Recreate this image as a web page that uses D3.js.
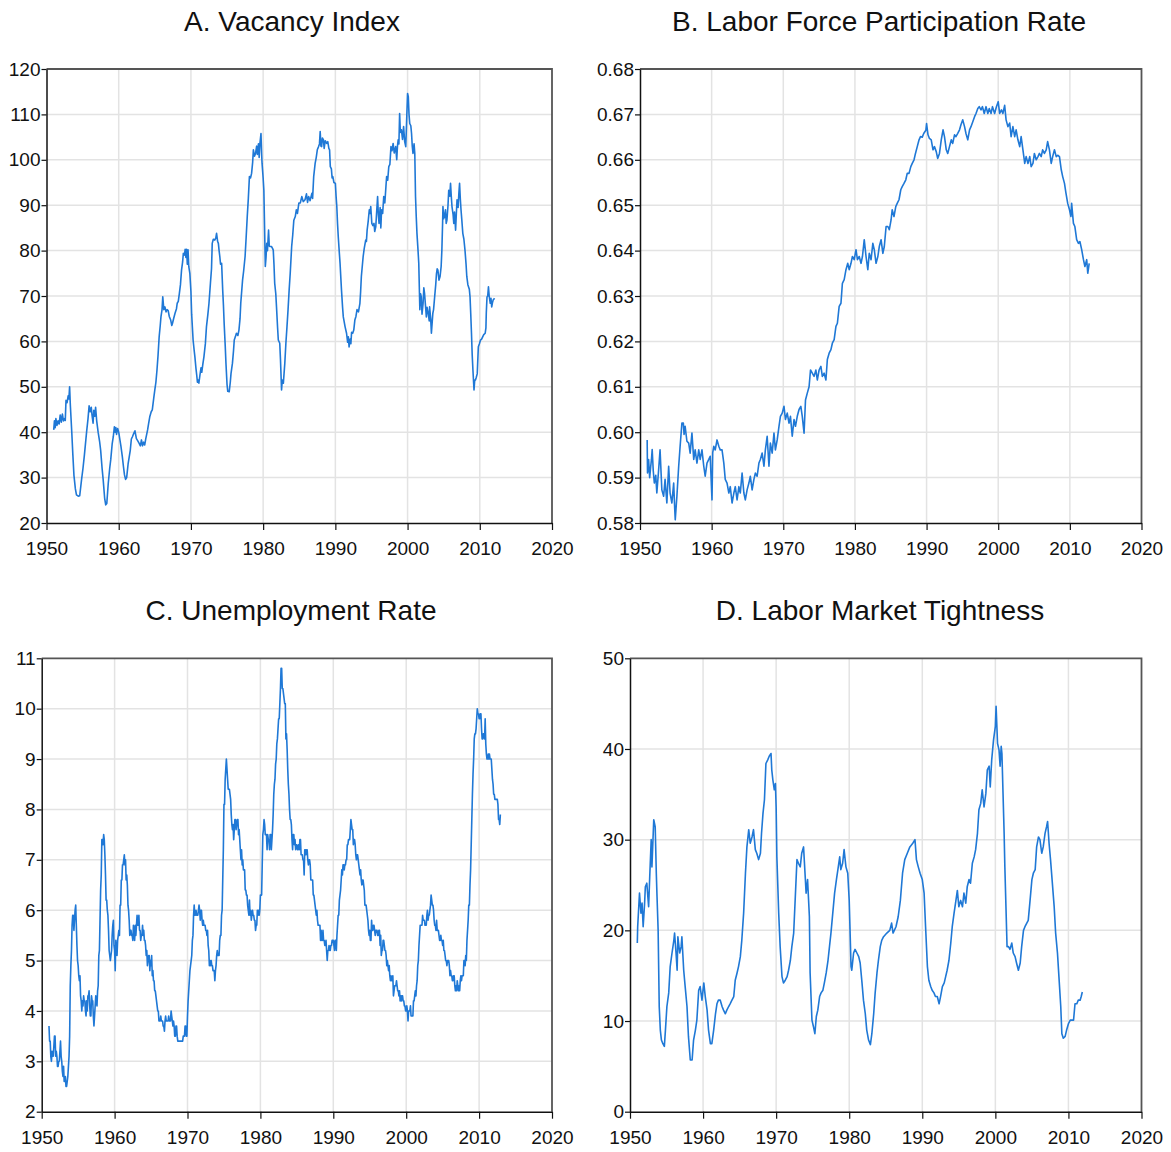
<!DOCTYPE html>
<html lang="en">
<head>
<meta charset="UTF-8">
<title>Labor Market Indicators</title>
<script src="https://d3js.org/d3.v7.min.js"></script>
<style>
  body { margin: 0; background: #fff; }
  svg text { font-family: "Liberation Sans", Arial, sans-serif; fill: #111; }
</style>
</head>
<body>
<div id="chart"></div>
<script>
// ---- data ----
// [decimal year, value]
const vacancy = [
  [1951.0,40.5],[1951.1,42.5],[1951.2,41],[1951.3,43],[1951.45,41.5],[1951.6,42.5],[1951.75,41.8],[1951.9,43.8],
  [1952.05,42.2],[1952.2,44],[1952.35,42.5],[1952.5,43],[1952.6,42.6],[1952.7,47],[1952.85,46.5],[1953.0,48],
  [1953.1,47.3],[1953.2,50],[1953.3,46],[1953.5,40],[1953.65,35],[1953.8,30.5],[1954.0,27.5],[1954.15,26.2],
  [1954.4,25.9],[1954.6,26],[1954.85,29.5],[1955.05,32],[1955.25,35],[1955.55,40],[1955.75,43],[1955.9,45.8],
  [1956.05,44.5],[1956.2,45.5],[1956.3,43.8],[1956.45,42],[1956.55,44.8],[1956.7,43.5],[1956.8,45.5],[1956.95,42.5],
  [1957.15,40],[1957.35,38],[1957.5,36],[1957.7,32],[1957.85,29.5],[1958.05,25.5],[1958.2,24],[1958.35,24.3],
  [1958.55,28.7],[1958.75,32],[1958.9,34],[1959.1,37.5],[1959.25,39],[1959.4,41.2],[1959.5,40],[1959.6,41],
  [1959.7,39.5],[1959.85,40.8],[1960.0,40],[1960.15,38.5],[1960.3,37],[1960.5,34.6],[1960.65,32.5],[1960.8,30.6],
  [1960.95,29.6],[1961.1,30],[1961.3,33],[1961.45,34.5],[1961.6,36],[1961.75,38.5],[1961.9,39],[1962.1,39.8],
  [1962.25,40.3],[1962.45,38.6],[1962.6,38.2],[1962.85,37.5],[1963.0,37],[1963.15,38.3],[1963.3,37],[1963.45,37.8],
  [1963.6,37.2],[1963.75,38.6],[1964.0,40.5],[1964.15,42],[1964.3,43.4],[1964.5,44.5],[1964.65,44.9],[1964.85,47.5],
  [1965.0,49.3],[1965.15,51],[1965.3,53.7],[1965.45,57],[1965.6,61],[1965.75,63.5],[1965.85,65.4],[1966.0,67],
  [1966.1,69.8],[1966.25,67],[1966.4,67.6],[1966.55,66.5],[1966.7,67],[1966.85,66.8],[1967.0,65.5],[1967.2,64.7],
  [1967.35,63.5],[1967.45,64],[1967.6,65],[1967.8,66.2],[1968.0,67.2],[1968.1,68.4],[1968.25,68.8],[1968.4,70.6],
  [1968.55,72.5],[1968.7,75.7],[1968.85,77.5],[1968.95,79.4],[1969.1,79],[1969.2,80.3],[1969.3,78.5],[1969.4,80.3],
  [1969.5,77],[1969.6,80.2],[1969.7,76.5],[1969.85,75],[1970.0,71],[1970.1,66],[1970.3,60.3],[1970.45,58],
  [1970.55,56.6],[1970.7,54],[1970.8,52.6],[1970.9,51],[1971.0,51.5],[1971.1,50.8],[1971.25,52.6],[1971.4,54.2],
  [1971.5,53.2],[1971.65,55],[1971.8,56.6],[1972.0,59.5],[1972.15,63.2],[1972.35,66],[1972.5,68.4],[1972.7,72.8],
  [1972.85,76],[1972.95,81.6],[1973.1,82.5],[1973.3,82.3],[1973.45,82.8],[1973.55,83.8],[1973.7,82],[1973.8,81.6],
  [1973.9,80],[1974.0,78.7],[1974.1,77],[1974.25,77.2],[1974.4,71.3],[1974.5,68],[1974.6,64],[1974.75,59],
  [1974.85,55.2],[1975.0,50.5],[1975.1,49],[1975.3,48.9],[1975.45,51],[1975.55,52.9],[1975.75,55.2],[1975.9,58],
  [1976.0,60.3],[1976.15,61],[1976.3,61.8],[1976.5,61.3],[1976.65,62.5],[1976.8,65],[1976.9,68.4],[1977.15,73.5],
  [1977.3,75.5],[1977.5,78.7],[1977.65,83],[1977.8,87.5],[1977.95,91.5],[1978.1,96.3],[1978.25,96],[1978.4,97],
  [1978.55,99.5],[1978.65,102.2],[1978.8,100.8],[1978.95,101.4],[1979.1,103],[1979.2,101.2],[1979.35,103.5],[1979.45,100.5],
  [1979.55,103.5],[1979.7,105.8],[1979.8,101],[1979.85,99.2],[1980.0,96],[1980.1,93.3],[1980.2,85],[1980.3,76.5],
  [1980.4,78.5],[1980.5,81.6],[1980.6,80],[1980.75,84.5],[1980.85,81],[1980.95,80.9],[1981.15,80.9],[1981.3,80.5],
  [1981.4,80.1],[1981.5,77],[1981.6,72.8],[1981.75,70.5],[1981.85,67.6],[1982.0,63],[1982.1,60.3],[1982.3,59.6],
  [1982.4,56],[1982.55,49.3],[1982.65,51.5],[1982.8,50.8],[1982.9,53],[1983.0,55.2],[1983.15,59.6],[1983.3,63.2],
  [1983.45,67],[1983.6,71.3],[1983.75,75],[1983.95,80.9],[1984.1,83.5],[1984.25,86.7],[1984.45,87.5],[1984.6,89],
  [1984.75,88.2],[1984.95,90.5],[1985.15,90.5],[1985.35,91.9],[1985.55,90.8],[1985.8,91.2],[1986.0,92.5],[1986.15,90.6],
  [1986.3,91.9],[1986.5,91],[1986.75,92.6],[1986.85,91.5],[1987.0,96.3],[1987.2,99.2],[1987.35,100.5],[1987.5,102.2],
  [1987.65,102.8],[1987.8,103.5],[1987.9,106.2],[1988.0,103],[1988.1,102.9],[1988.2,104.8],[1988.35,104.4],[1988.45,102.5],
  [1988.6,104.2],[1988.8,103.6],[1988.95,104],[1989.1,102.5],[1989.2,102.2],[1989.3,98.5],[1989.45,98],[1989.55,96],
  [1989.65,96.3],[1989.8,95],[1990.0,94.8],[1990.1,92],[1990.2,89.7],[1990.3,86],[1990.4,83.1],[1990.55,79.5],
  [1990.65,77.2],[1990.85,71.3],[1991.0,67.5],[1991.1,65.4],[1991.35,63.2],[1991.55,61.8],[1991.7,59.8],[1991.8,61],
  [1991.9,58.8],[1992.05,60.5],[1992.15,59.5],[1992.25,62],[1992.4,61.8],[1992.55,62.5],[1992.7,64.7],[1992.85,65.5],
  [1993.0,67],[1993.2,66.5],[1993.4,68.4],[1993.5,71],[1993.6,74.3],[1993.85,78.7],[1994.0,80.5],[1994.2,82.3],
  [1994.3,82],[1994.4,84.5],[1994.55,86.5],[1994.7,89],[1994.8,88.2],[1994.9,89.7],[1995.05,86],[1995.2,85.5],
  [1995.35,86],[1995.45,84.2],[1995.6,85.3],[1995.7,88],[1995.85,91.9],[1995.95,88],[1996.05,86],[1996.2,89.5],
  [1996.3,85],[1996.4,89],[1996.55,88.2],[1996.7,91.9],[1996.85,90.5],[1997.0,94],[1997.1,96.3],[1997.25,95.5],
  [1997.4,98.5],[1997.55,99],[1997.7,102.9],[1997.85,102],[1998.0,103.6],[1998.15,101.5],[1998.35,102.9],[1998.5,100],
  [1998.6,103],[1998.7,104.4],[1998.8,103.5],[1998.9,110.2],[1999.0,106],[1999.15,106.6],[1999.3,104.5],[1999.45,107.3],
  [1999.6,104],[1999.75,102.9],[1999.9,110],[2000.0,114.6],[2000.1,113.9],[2000.2,110],[2000.3,108],[2000.45,107.5],
  [2000.55,105.8],[2000.65,103],[2000.75,101.4],[2000.9,103.5],[2001.0,101.4],[2001.1,91.9],[2001.2,87.5],[2001.3,83.8],
  [2001.45,80],[2001.55,77.2],[2001.7,67],[2001.8,70.5],[2001.9,69.8],[2002.0,66],[2002.15,68.4],[2002.25,71.8],
  [2002.35,70.6],[2002.5,67.5],[2002.6,65.4],[2002.7,67.5],[2002.85,66.2],[2003.0,64.5],[2003.05,67.6],[2003.2,65],
  [2003.3,61.8],[2003.4,64],[2003.5,66.2],[2003.6,67],[2003.75,69.8],[2003.9,72.5],[2004.0,74.9],[2004.1,76],
  [2004.2,75.7],[2004.35,73.5],[2004.5,74.3],[2004.65,76.5],[2004.75,80.1],[2004.85,86],[2004.9,89.7],[2005.0,87],
  [2005.1,87.5],[2005.25,89],[2005.35,86],[2005.45,86.7],[2005.6,90],[2005.7,93.3],[2005.85,92],[2005.95,94.8],
  [2006.05,92],[2006.15,89.7],[2006.3,88],[2006.4,86],[2006.5,88.5],[2006.65,84.5],[2006.75,88],[2006.85,91.2],
  [2007.0,89.5],[2007.1,92.5],[2007.2,94.8],[2007.3,91.5],[2007.4,89],[2007.5,87],[2007.65,83.8],[2007.8,82.5],
  [2007.95,80.1],[2008.1,77],[2008.2,74.3],[2008.35,72.5],[2008.45,72],[2008.55,71.5],[2008.65,69.8],[2008.75,66],
  [2008.85,61.8],[2008.95,57],[2009.05,53.7],[2009.2,49.3],[2009.3,51.5],[2009.4,51.5],[2009.5,52],[2009.65,52.9],
  [2009.8,58.8],[2009.95,59.5],[2010.1,60.3],[2010.25,60.5],[2010.4,61],[2010.55,61.5],[2010.75,61.8],[2010.85,63],
  [2010.9,66.2],[2011.0,69.8],[2011.1,70],[2011.2,72],[2011.3,70],[2011.45,68.4],[2011.55,69.5],[2011.65,67.6],
  [2011.75,68.5],[2011.85,69.1],[2012.05,69.5]
];

const participation = [
  [1951.0,0.5983],[1951.05,0.591],[1951.2,0.594],[1951.35,0.590],[1951.5,0.5925],[1951.6,0.594],[1951.7,0.5962],[1951.85,0.5915],
  [1952.0,0.5888],[1952.2,0.5905],[1952.35,0.5866],[1952.6,0.5917],[1952.8,0.5961],[1953.05,0.5873],[1953.3,0.5859],[1953.5,0.5896],
  [1953.75,0.5844],[1954.0,0.5925],[1954.2,0.5866],[1954.45,0.5844],[1954.7,0.5888],[1954.85,0.5830],[1954.92,0.5807],[1955.15,0.5859],
  [1955.4,0.5925],[1955.6,0.5969],[1955.85,0.602],[1956.05,0.602],[1956.15,0.5995],[1956.3,0.6013],[1956.55,0.598],[1956.8,0.5976],
  [1957.0,0.5954],[1957.25,0.5998],[1957.5,0.594],[1957.7,0.5961],[1957.95,0.5932],[1958.2,0.5961],[1958.4,0.594],[1958.65,0.5961],
  [1958.9,0.5925],[1959.1,0.5903],[1959.35,0.5932],[1959.6,0.594],[1959.8,0.5947],[1960.05,0.5851],[1960.15,0.5955],[1960.3,0.5969],
  [1960.5,0.5961],[1960.75,0.5983],[1961.0,0.5969],[1961.2,0.5961],[1961.45,0.5961],[1961.7,0.5932],[1961.9,0.5896],[1962.15,0.5888],
  [1962.4,0.5866],[1962.6,0.588],[1962.85,0.5844],[1963.1,0.5866],[1963.3,0.588],[1963.55,0.5851],[1963.8,0.588],[1964.0,0.5866],
  [1964.25,0.591],[1964.5,0.5866],[1964.7,0.5851],[1964.95,0.5873],[1965.2,0.5888],[1965.4,0.5903],[1965.65,0.5873],[1965.9,0.5896],
  [1966.1,0.591],[1966.35,0.5903],[1966.6,0.5932],[1966.8,0.594],[1967.05,0.5954],[1967.3,0.5925],[1967.5,0.5961],[1967.75,0.5991],
  [1968.0,0.5925],[1968.2,0.5976],[1968.45,0.5954],[1968.7,0.5998],[1968.9,0.5961],[1969.15,0.5983],[1969.4,0.6013],[1969.6,0.6035],
  [1969.85,0.6042],[1970.1,0.6057],[1970.3,0.6028],[1970.55,0.6042],[1970.8,0.602],[1971.0,0.6035],[1971.25,0.5991],[1971.5,0.6028],
  [1971.7,0.6013],[1971.95,0.6035],[1972.2,0.605],[1972.45,0.6057],[1972.65,0.6035],[1972.9,0.5998],[1973.1,0.6071],[1973.35,0.6086],
  [1973.6,0.61],[1973.8,0.6137],[1974.05,0.613],[1974.3,0.6123],[1974.55,0.6137],[1974.75,0.6115],[1975.0,0.6137],[1975.25,0.6145],
  [1975.45,0.6123],[1975.7,0.613],[1975.95,0.6115],[1976.15,0.616],[1976.4,0.6174],[1976.65,0.6182],[1976.85,0.6196],[1977.1,0.6204],
  [1977.35,0.6233],[1977.55,0.624],[1977.8,0.6277],[1978.05,0.6284],[1978.25,0.6328],[1978.5,0.6336],[1978.75,0.6358],[1979.0,0.6372],
  [1979.2,0.6358],[1979.45,0.6372],[1979.65,0.6387],[1979.9,0.638],[1980.15,0.6402],[1980.35,0.638],[1980.6,0.6387],[1980.85,0.6372],
  [1981.05,0.6387],[1981.3,0.6424],[1981.55,0.6387],[1981.8,0.6358],[1982.0,0.6394],[1982.25,0.638],[1982.5,0.6416],[1982.7,0.6402],
  [1982.95,0.6372],[1983.2,0.6387],[1983.4,0.6409],[1983.65,0.6424],[1983.9,0.6394],[1984.1,0.6409],[1984.35,0.6453],[1984.6,0.6453],
  [1984.8,0.6446],[1985.05,0.6468],[1985.2,0.649],[1985.45,0.6475],[1985.7,0.6497],[1985.9,0.6504],[1986.15,0.6512],[1986.4,0.6534],
  [1986.6,0.6541],[1986.85,0.6548],[1987.1,0.6556],[1987.3,0.657],[1987.55,0.657],[1987.8,0.6585],[1988.0,0.6592],[1988.25,0.66],
  [1988.45,0.6614],[1988.7,0.6629],[1988.95,0.6644],[1989.15,0.6651],[1989.4,0.665],[1989.6,0.6658],[1989.9,0.6665],[1990.0,0.6680],
  [1990.2,0.6655],[1990.4,0.6647],[1990.65,0.6644],[1990.9,0.6622],[1991.1,0.6629],[1991.35,0.6618],[1991.55,0.6603],[1991.8,0.6614],
  [1992.05,0.6644],[1992.3,0.6666],[1992.5,0.6651],[1992.75,0.6622],[1992.95,0.6614],[1993.2,0.6629],[1993.45,0.6644],[1993.65,0.6636],
  [1993.9,0.6655],[1994.1,0.6651],[1994.35,0.6658],[1994.6,0.6666],[1994.8,0.6677],[1995.05,0.6688],[1995.3,0.6673],[1995.5,0.6658],
  [1995.75,0.6644],[1996.0,0.6666],[1996.2,0.6673],[1996.45,0.6684],[1996.7,0.6695],[1996.9,0.6702],[1997.15,0.6713],[1997.35,0.6717],
  [1997.6,0.671],[1997.8,0.6717],[1998.05,0.6702],[1998.3,0.6717],[1998.55,0.6702],[1998.75,0.6713],[1999.0,0.6702],[1999.2,0.6717],
  [1999.5,0.6702],[1999.75,0.6717],[2000.0,0.6728],[2000.2,0.6702],[2000.45,0.671],[2000.65,0.6702],[2000.9,0.672],[2001.1,0.6688],
  [2001.35,0.6673],[2001.6,0.6681],[2001.8,0.6651],[2002.05,0.6673],[2002.3,0.6651],[2002.5,0.6666],[2002.75,0.6644],[2003.0,0.6629],
  [2003.2,0.6651],[2003.45,0.6622],[2003.7,0.6592],[2003.9,0.6607],[2004.15,0.6592],[2004.4,0.6607],[2004.6,0.6585],[2004.85,0.6592],
  [2005.05,0.6614],[2005.3,0.66],[2005.55,0.6607],[2005.75,0.6614],[2006.0,0.6607],[2006.2,0.6622],[2006.45,0.6614],[2006.7,0.6622],
  [2006.9,0.664],[2007.15,0.6622],[2007.4,0.6592],[2007.6,0.6607],[2007.85,0.6622],[2008.1,0.6607],[2008.3,0.661],[2008.55,0.6607],
  [2008.8,0.6578],[2009.0,0.6563],[2009.25,0.6548],[2009.45,0.6527],[2009.7,0.6504],[2009.95,0.649],[2010.15,0.6475],[2010.25,0.6504],
  [2010.5,0.646],[2010.7,0.6453],[2010.95,0.6424],[2011.2,0.6416],[2011.4,0.642],[2011.65,0.6402],[2011.9,0.638],[2012.1,0.6365],
  [2012.35,0.638],[2012.5,0.635],[2012.7,0.6372]
];

// unemployment rate, monthly, one row per year from 1951 (Jan..Dec)
const unempStartYear = 1951;
const unemployment = [
  [3.7,3.4,3.4,3.1,3.0,3.2,3.1,3.1,3.3,3.5,3.5,3.1],
  [3.2,3.1,2.9,2.9,3.0,3.0,3.2,3.4,3.1,3.0,2.8,2.7],
  [2.9,2.6,2.6,2.7,2.5,2.5,2.6,2.7,2.9,3.1,3.5,4.5],
  [4.9,5.2,5.7,5.9,5.9,5.6,5.8,6.0,6.1,5.7,5.3,5.0],
  [4.9,4.7,4.6,4.7,4.3,4.2,4.0,4.2,4.1,4.3,4.2,4.2],
  [4.0,3.9,4.2,4.0,4.3,4.3,4.4,4.1,3.9,3.9,4.3,4.2],
  [4.2,3.9,3.7,3.9,4.1,4.3,4.2,4.1,4.4,4.5,5.1,5.2],
  [5.8,6.4,6.7,7.4,7.4,7.3,7.5,7.4,7.1,6.7,6.2,6.2],
  [6.0,5.9,5.6,5.2,5.1,5.0,5.1,5.2,5.5,5.7,5.8,5.3],
  [5.2,4.8,5.4,5.2,5.1,5.4,5.5,5.6,5.5,6.1,6.1,6.6],
  [6.6,6.9,6.9,7.0,7.1,6.9,7.0,6.6,6.7,6.5,6.1,6.0],
  [5.8,5.5,5.6,5.6,5.5,5.5,5.4,5.7,5.6,5.4,5.7,5.5],
  [5.7,5.9,5.7,5.7,5.9,5.6,5.6,5.4,5.5,5.5,5.7,5.5],
  [5.6,5.4,5.4,5.3,5.1,5.2,4.9,5.0,5.1,5.1,4.8,5.0],
  [4.9,5.1,4.7,4.8,4.6,4.6,4.4,4.4,4.3,4.2,4.1,4.0],
  [4.0,3.8,3.8,3.8,3.9,3.8,3.8,3.8,3.7,3.7,3.6,3.8],
  [3.9,3.8,3.8,3.8,3.8,3.9,3.8,3.8,3.8,4.0,3.9,3.8],
  [3.7,3.8,3.7,3.5,3.5,3.7,3.7,3.5,3.4,3.4,3.4,3.4],
  [3.4,3.4,3.4,3.4,3.4,3.5,3.5,3.5,3.7,3.7,3.5,3.5],
  [3.9,4.2,4.4,4.6,4.8,4.9,5.0,5.1,5.4,5.5,5.9,6.1],
  [5.9,5.9,6.0,5.9,5.9,5.9,6.0,6.1,6.0,5.8,6.0,6.0],
  [5.8,5.7,5.8,5.7,5.7,5.7,5.6,5.6,5.5,5.6,5.3,5.2],
  [4.9,5.0,4.9,5.0,4.9,4.9,4.8,4.8,4.8,4.6,4.8,4.9],
  [5.1,5.2,5.1,5.1,5.1,5.4,5.5,5.5,5.9,6.0,6.6,7.2],
  [8.1,8.1,8.6,8.8,9.0,8.8,8.6,8.4,8.4,8.4,8.3,8.2],
  [7.9,7.7,7.6,7.7,7.4,7.6,7.8,7.8,7.6,7.7,7.8,7.8],
  [7.5,7.6,7.4,7.2,7.0,7.2,6.9,7.0,6.8,6.8,6.8,6.4],
  [6.4,6.3,6.3,6.1,6.0,5.9,6.2,5.9,6.0,5.8,5.9,6.0],
  [5.9,5.9,5.8,5.8,5.6,5.7,5.7,6.0,5.9,6.0,5.9,6.0],
  [6.3,6.3,6.3,6.9,7.5,7.6,7.8,7.7,7.5,7.5,7.5,7.2],
  [7.5,7.4,7.4,7.2,7.5,7.5,7.2,7.4,7.6,7.9,8.3,8.5],
  [8.6,8.9,9.0,9.3,9.4,9.6,9.8,9.8,10.1,10.4,10.8,10.8],
  [10.4,10.4,10.3,10.2,10.1,10.1,9.4,9.5,9.2,8.8,8.5,8.3],
  [8.0,7.8,7.8,7.7,7.4,7.2,7.5,7.5,7.3,7.4,7.2,7.3],
  [7.3,7.2,7.2,7.3,7.2,7.4,7.4,7.1,7.1,7.1,7.0,7.0],
  [6.7,7.2,7.2,7.1,7.2,7.2,7.0,6.9,7.0,7.0,6.9,6.6],
  [6.6,6.6,6.6,6.3,6.3,6.2,6.1,6.0,5.9,6.0,5.8,5.7],
  [5.7,5.7,5.7,5.4,5.6,5.4,5.4,5.6,5.4,5.4,5.3,5.3],
  [5.4,5.2,5.0,5.2,5.2,5.3,5.2,5.2,5.3,5.3,5.4,5.4],
  [5.4,5.3,5.2,5.4,5.4,5.2,5.5,5.7,5.9,5.9,6.2,6.3],
  [6.4,6.6,6.8,6.7,6.9,6.9,6.8,6.9,6.9,7.0,7.0,7.3],
  [7.3,7.4,7.4,7.4,7.6,7.8,7.7,7.6,7.6,7.3,7.4,7.4],
  [7.3,7.1,7.0,7.1,7.1,7.0,6.9,6.8,6.7,6.8,6.6,6.5],
  [6.6,6.6,6.5,6.4,6.1,6.1,6.1,6.0,5.9,5.8,5.6,5.5],
  [5.6,5.4,5.4,5.8,5.6,5.6,5.7,5.7,5.6,5.5,5.6,5.6],
  [5.6,5.5,5.5,5.6,5.6,5.3,5.5,5.1,5.2,5.2,5.4,5.4],
  [5.3,5.2,5.2,5.1,4.9,5.0,4.9,4.8,4.9,4.7,4.6,4.7],
  [4.6,4.6,4.7,4.3,4.4,4.5,4.5,4.5,4.6,4.5,4.4,4.4],
  [4.3,4.4,4.2,4.3,4.2,4.3,4.3,4.2,4.2,4.1,4.1,4.0],
  [4.0,4.1,4.0,3.8,4.0,4.0,4.0,4.1,3.9,3.9,3.9,3.9],
  [4.2,4.2,4.3,4.4,4.3,4.5,4.6,4.9,5.0,5.3,5.5,5.7],
  [5.7,5.7,5.7,5.9,5.8,5.8,5.8,5.7,5.7,5.7,5.9,6.0],
  [5.8,5.9,5.9,6.0,6.1,6.3,6.2,6.1,6.1,6.0,5.8,5.7],
  [5.7,5.6,5.8,5.6,5.6,5.6,5.5,5.4,5.4,5.5,5.4,5.4],
  [5.3,5.4,5.2,5.2,5.1,5.0,5.0,4.9,5.0,5.0,5.0,4.9],
  [4.7,4.8,4.7,4.7,4.6,4.6,4.7,4.7,4.5,4.4,4.5,4.4],
  [4.6,4.5,4.4,4.5,4.4,4.6,4.7,4.6,4.7,4.7,4.7,5.0],
  [5.0,4.9,5.1,5.0,5.4,5.6,5.8,6.1,6.1,6.5,6.8,7.3],
  [7.8,8.3,8.7,9.0,9.4,9.5,9.5,9.6,9.8,10.0,9.9,9.9],
  [9.8,9.8,9.9,9.9,9.6,9.4,9.4,9.5,9.5,9.4,9.8,9.3],
  [9.1,9.0,9.0,9.1,9.0,9.1,9.0,9.0,9.0,8.8,8.6,8.5],
  [8.3,8.3,8.2,8.2,8.2,8.2,8.2,8.1,7.8,7.8,7.7,7.9]
];

const tightness = [
  [1951.0,18.6],[1951.05,20.4],[1951.3,24.1],[1951.5,21.9],[1951.65,23],[1951.8,20.4],[1952.0,23],[1952.1,24.8],
  [1952.3,25.2],[1952.55,22.6],[1952.7,25.9],[1952.9,30],[1953.0,27],[1953.25,32.2],[1953.45,31.4],[1953.6,26.3],
  [1953.7,23.7],[1953.85,20],[1954.0,11.6],[1954.15,9],[1954.3,7.9],[1954.5,7.5],[1954.7,7.2],[1954.85,9],
  [1955.05,11.6],[1955.3,13.1],[1955.5,16],[1955.75,17.5],[1956.0,18.9],[1956.1,19.7],[1956.3,17.5],[1956.45,15.6],
  [1956.55,19.3],[1956.8,17.5],[1957.0,18.2],[1957.1,19.3],[1957.35,15.6],[1957.55,13.8],[1957.8,11.6],[1958.0,8.3],
  [1958.25,5.7],[1958.5,5.7],[1958.7,7.9],[1958.95,9],[1959.15,10.1],[1959.4,13.4],[1959.6,13.8],[1959.85,12.3],
  [1960.1,14.2],[1960.3,12.7],[1960.55,11.2],[1960.75,9],[1961.0,7.5],[1961.2,7.5],[1961.45,9],[1961.7,10.8],
  [1961.9,11.9],[1962.1,12.3],[1962.35,12.3],[1962.6,11.6],[1962.8,11.2],[1963.05,10.8],[1963.25,11.2],[1963.5,11.6],
  [1963.7,11.9],[1963.95,12.3],[1964.2,12.7],[1964.4,14.5],[1964.65,15.3],[1964.85,16],[1965.1,17.1],[1965.3,18.9],
  [1965.55,21.9],[1965.8,26.3],[1966.0,29.2],[1966.25,31.1],[1966.45,29.6],[1966.7,30.3],[1966.9,31.1],[1967.15,28.9],
  [1967.35,28.5],[1967.6,27.8],[1967.85,28.5],[1968.0,30.7],[1968.2,32.9],[1968.4,34.4],[1968.6,38.4],[1968.85,38.8],
  [1969.05,39.2],[1969.3,39.5],[1969.4,37.7],[1969.55,36.6],[1969.75,35.5],[1969.9,36.2],[1970.0,33.6],[1970.1,28.1],
  [1970.35,21.9],[1970.55,18.2],[1970.8,14.9],[1971.0,14.2],[1971.25,14.5],[1971.5,14.9],[1971.7,15.6],[1971.95,16.7],
  [1972.15,18.2],[1972.4,19.7],[1972.6,23.3],[1972.85,27.8],[1973.05,27.4],[1973.3,27],[1973.5,28.5],[1973.75,29.2],
  [1974.0,25.6],[1974.1,24.1],[1974.3,25.6],[1974.55,21.5],[1974.65,15.3],[1974.9,10.1],[1975.1,9.4],[1975.3,8.6],
  [1975.5,10.5],[1975.7,11.2],[1975.95,12.7],[1976.15,13.1],[1976.4,13.4],[1976.6,14.2],[1976.85,15.3],[1977.1,16.7],
  [1977.3,18.2],[1977.5,19.7],[1977.75,21.9],[1978.0,24.1],[1978.25,25.6],[1978.45,26.7],[1978.7,28.1],[1978.85,26.7],
  [1979.1,27.4],[1979.3,28.9],[1979.55,27],[1979.8,26.3],[1980.0,23.3],[1980.25,16],[1980.35,15.6],[1980.6,17.5],
  [1980.8,17.9],[1981.05,17.5],[1981.3,17.1],[1981.5,16.4],[1981.75,14.2],[1981.95,12.3],[1982.2,10.8],[1982.4,9],
  [1982.65,7.9],[1982.9,7.4],[1983.1,8.6],[1983.35,10.8],[1983.55,13.1],[1983.8,15.3],[1984.0,16.7],[1984.25,18.2],
  [1984.45,18.9],[1984.7,19.3],[1985.15,19.7],[1985.55,20],[1985.8,20.8],[1986.0,19.7],[1986.4,20.4],[1986.7,21.5],
  [1987.0,23.3],[1987.3,26.3],[1987.6,27.8],[1987.95,28.5],[1988.3,29.2],[1988.7,29.6],[1989.0,30],[1989.2,27.8],
  [1989.45,27],[1989.7,26.3],[1990.0,25.6],[1990.25,24.1],[1990.45,20.4],[1990.7,16],[1990.9,14.5],[1991.15,13.8],
  [1991.35,13.4],[1991.6,13.1],[1991.8,12.7],[1992.05,12.7],[1992.3,11.9],[1992.5,12.7],[1992.75,13.8],[1993.0,14.2],
  [1993.2,14.9],[1993.4,15.6],[1993.65,16.7],[1993.9,18.6],[1994.1,20.4],[1994.35,21.9],[1994.55,23],[1994.8,24.4],
  [1995.0,22.6],[1995.25,23.3],[1995.5,22.6],[1995.7,24.1],[1995.95,23],[1996.15,24.8],[1996.4,25.6],[1996.6,25.2],
  [1996.85,27.4],[1997.1,28.1],[1997.3,28.9],[1997.55,30.7],[1997.75,33.3],[1998.0,34],[1998.2,35.5],[1998.45,33.6],
  [1998.7,35.1],[1998.9,37.7],[1999.15,38.1],[1999.3,35.8],[1999.5,38.8],[1999.75,41],[2000.0,42.5],[2000.1,44.7],
  [2000.3,40.6],[2000.5,39.9],[2000.65,38.1],[2000.8,40.3],[2000.9,39.5],[2001.05,35.1],[2001.2,30.7],[2001.3,27],
  [2001.45,22.6],[2001.6,18.2],[2001.8,18.2],[2002.0,17.9],[2002.25,18.6],[2002.45,17.5],[2002.7,17.1],[2002.9,16.4],
  [2003.15,15.6],[2003.4,16.4],[2003.6,18.2],[2003.85,20],[2004.05,20.4],[2004.3,20.8],[2004.5,21.1],[2004.75,23.3],
  [2005.0,25.6],[2005.2,26.3],[2005.45,26.7],[2005.65,29.2],[2005.9,30.3],[2006.1,30],[2006.35,28.5],[2006.55,29.2],
  [2006.8,30.7],[2007.0,31.4],[2007.15,32],[2007.35,29.6],[2007.55,27.8],[2007.8,25.2],[2008.05,22.6],[2008.25,19.7],
  [2008.5,17.5],[2008.7,14.9],[2008.95,11.6],[2009.1,8.6],[2009.3,8.1],[2009.55,8.3],[2009.75,9],[2010.0,9.7],
  [2010.25,10.1],[2010.45,10.1],[2010.7,10.1],[2010.9,11.9],[2011.15,11.9],[2011.35,12.3],[2011.6,12.3],[2011.75,12.7],
  [2011.9,13.2]
];

// monthly rows -> [decimal year, value]
const unempSeries = [];
unemployment.forEach((row, i) => {
  row.forEach((v, m) => unempSeries.push([unempStartYear + i + m / 12, v]));
});

const xTicks = [1950, 1960, 1970, 1980, 1990, 2000, 2010, 2020];

const panels = [
  { title: "A. Vacancy Index", data: vacancy, box: [46.5, 552, 69, 523], titleX: 292, titleY: 31,
    yDomain: [20, 120], yTicks: d3.range(20, 121, 10), fmt: d3.format("d") },
  { title: "B. Labor Force Participation Rate", data: participation, box: [640, 1141.5, 69, 523], titleX: 879, titleY: 31,
    yDomain: [0.58, 0.68], yTicks: d3.range(58, 69, 1).map(d => d / 100), fmt: d3.format(".2f") },
  { title: "C. Unemployment Rate", data: unempSeries, box: [41.7, 552, 658.3, 1111.7], titleX: 291, titleY: 620,
    yDomain: [2, 11], yTicks: d3.range(2, 12, 1), fmt: d3.format("d") },
  { title: "D. Labor Market Tightness", data: tightness, box: [630, 1141.5, 658.3, 1111.7], titleX: 880, titleY: 620,
    yDomain: [0, 50], yTicks: d3.range(0, 51, 10), fmt: d3.format("d") }
];

const svg = d3.select("#chart").append("svg")
  .attr("width", 1171)
  .attr("height", 1152);

panels.forEach(p => {
  const [x0, x1, y0, y1] = p.box;
  const x = d3.scaleLinear().domain([1950, 2020]).range([x0, x1]);
  const y = d3.scaleLinear().domain(p.yDomain).range([y1, y0]);
  const g = svg.append("g");

  // grid
  g.selectAll(".vgrid").data(xTicks.slice(1, -1)).join("line")
    .attr("x1", d => x(d)).attr("x2", d => x(d))
    .attr("y1", y0).attr("y2", y1)
    .attr("stroke", "#e3e3e3").attr("stroke-width", 1.5);
  g.selectAll(".hgrid").data(p.yTicks.slice(1, -1)).join("line")
    .attr("x1", x0).attr("x2", x1)
    .attr("y1", d => y(d)).attr("y2", d => y(d))
    .attr("stroke", "#e3e3e3").attr("stroke-width", 1.5);

  // frame top/right
  g.append("path")
    .attr("d", `M${x0},${y0}H${x1}V${y1}`)
    .attr("fill", "none").attr("stroke", "#555").attr("stroke-width", 1.8);

  // series
  g.append("path")
    .datum(p.data)
    .attr("fill", "none")
    .attr("stroke", "#1f78d6")
    .attr("stroke-width", 1.6)
    .attr("stroke-linejoin", "round")
    .attr("d", d3.line().x(d => x(d[0])).y(d => y(d[1])));

  // axes
  const xAxis = g.append("g")
    .attr("transform", `translate(0,${y1})`)
    .call(d3.axisBottom(x).tickValues(xTicks).tickFormat(d3.format("d")).tickSize(7).tickSizeOuter(0).tickPadding(12));
  const yAxis = g.append("g")
    .attr("transform", `translate(${x0},0)`)
    .call(d3.axisLeft(y).tickValues(p.yTicks).tickFormat(p.fmt).tickSize(5).tickSizeOuter(0).tickPadding(1));
  [xAxis, yAxis].forEach(a => {
    a.select(".domain").attr("stroke", "#111").attr("stroke-width", 1.5);
    a.selectAll(".tick line").attr("stroke", "#111").attr("stroke-width", 1.2);
    a.selectAll("text").attr("font-size", 19).attr("fill", "#111")
      .style("font-family", "'Liberation Sans', Arial, sans-serif");
  });

  // title
  svg.append("text")
    .attr("x", p.titleX).attr("y", p.titleY)
    .attr("text-anchor", "middle")
    .attr("font-size", 28)
    .text(p.title);
});
</script>
</body>
</html>
